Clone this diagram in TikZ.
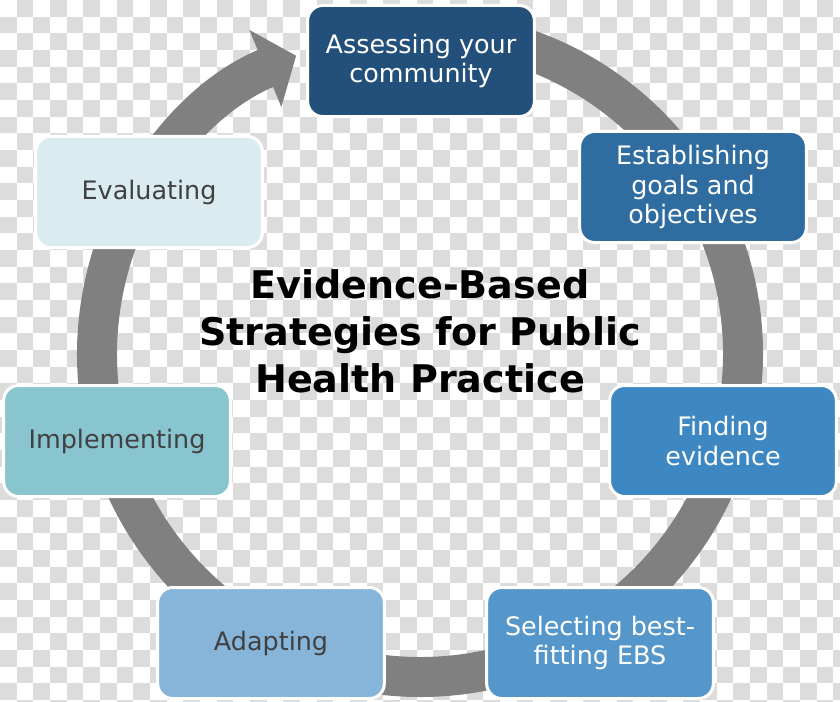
\documentclass[tikz,border=0pt]{standalone}
\usepackage{fontspec}
\setmainfont{DejaVu Sans}
\usetikzlibrary{arrows.meta}
\definecolor{checkgray}{HTML}{DCDCDC}
\definecolor{ringgray}{HTML}{808080}
\definecolor{textgray}{HTML}{404040}
\definecolor{assesscol}{HTML}{23507A}
\definecolor{goalscol}{HTML}{2F6DA1}
\definecolor{evidcol}{HTML}{3D87C2}
\definecolor{selectcol}{HTML}{5597CB}
\definecolor{adaptcol}{HTML}{87B5DA}
\definecolor{implcol}{HTML}{88C5CF}
\definecolor{evalcol}{HTML}{DAECEF}

\begin{document}
\begin{tikzpicture}[x=0.03cm, y={(0,-0.03cm)},
    stage/.style={draw=white, line width=0.09cm, rounded corners=0.45cm,
        minimum width=6.8cm, minimum height=3.33cm, align=center,
        font=\fontsize{21.7}{25}\selectfont},
    darkstage/.style={stage, text=white},
    lightstage/.style={stage, text=textgray}]
    \useasboundingbox (0,0) rectangle (840,702);
    \clip (0,0) rectangle (840,702);
    % Checkered background
    \foreach \j [evaluate=\j as \ph using {mod(\j+1,2)*0.5}] in {0,...,42}
        \draw[checkgray, line width=0.5cm, dash pattern=on 0.5cm off 0.5cm, dash phase=\ph cm]
            (0,{16.667*\j+8.333}) -- (840,{16.667*\j+8.333});
    % Cycle ring
    \draw[ringgray, line width=1.2cm, -{Triangle[length=1cm, width=2.45cm]}]
        (420,354) ++(-85:323) arc[start angle=-85, end angle=247.45, radius=323];
    % Stages
    \node[darkstage, fill=assesscol] (assess) at (421,61) {Assessing your\\community};
    \node[darkstage, fill=goalscol] (goals) at (693,187) {Establishing\\goals and\\objectives};
    \node[darkstage, fill=evidcol] (evidence) at (723,441) {Finding\\evidence};
    \node[darkstage, fill=selectcol] (select) at (600,643) {Selecting best-\\fitting EBS};
    \node[lightstage, fill=adaptcol] (adapt) at (271,643) {Adapting};
    \node[lightstage, fill=implcol] (implement) at (117,441) {Implementing};
    \node[lightstage, fill=evalcol] (evaluate) at (149,192) {Evaluating};
    % Title
    \node[font=\fontsize{32.5}{40}\selectfont\bfseries, align=center] (title) at (420,331)
        {Evidence-Based\\Strategies for Public\\Health Practice};
\end{tikzpicture}
\end{document}
